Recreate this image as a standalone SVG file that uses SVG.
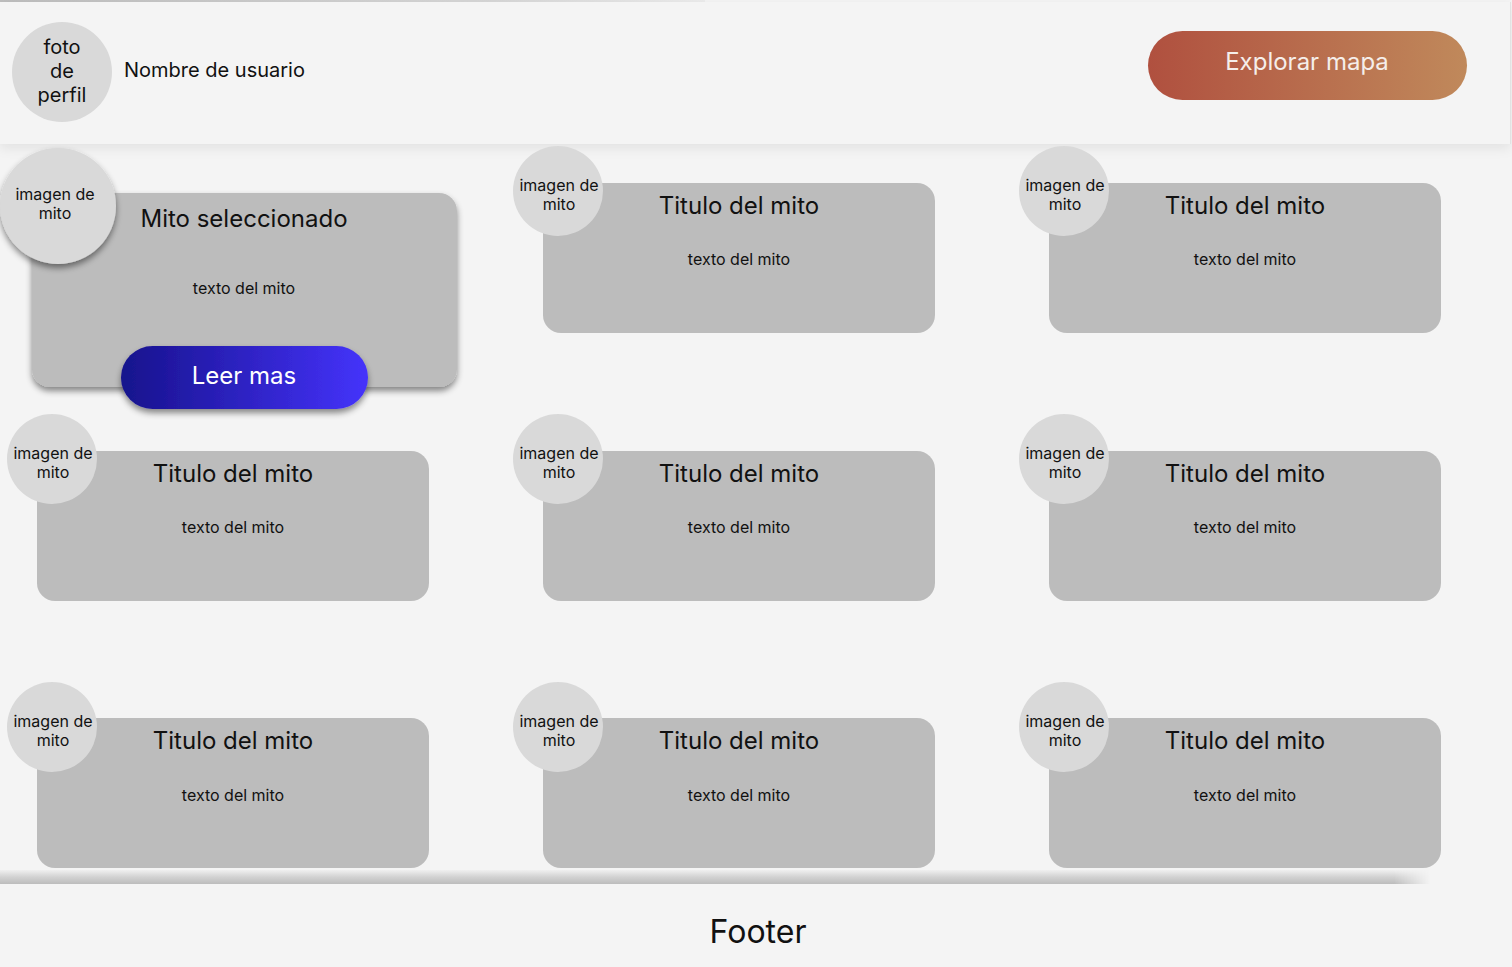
<svg xmlns="http://www.w3.org/2000/svg" width="1512" height="967" viewBox="0 0 1512 967">
<style>
.bg{fill:#f4f4f4}
.card{fill:#bcbcbc}
.circ{fill:#d9d9d9}
text{font-family:Inter,"Noto Sans","Liberation Sans",sans-serif;fill:#111;text-anchor:middle}
.small{font-size:16px}
.title{font-size:24px}
.hdr{font-size:20px}
.btn{font-size:24px;fill:#fff}
</style>
<defs>
<linearGradient id="gExp" x1="0" y1="0" x2="1" y2="0">
<stop offset="0" stop-color="#b0503f"/>
<stop offset="1" stop-color="#c0895b"/>
</linearGradient>
<linearGradient id="gLeer" x1="0" y1="0" x2="1" y2="0">
<stop offset="0" stop-color="#17128c"/>
<stop offset="1" stop-color="#4533fb"/>
</linearGradient>
<linearGradient id="gTop" x1="0" y1="0" x2="1" y2="0">
<stop offset="0" stop-color="#bdbdbd"/>
<stop offset="0.7" stop-color="#d6d6d6"/>
<stop offset="1" stop-color="#ececec"/>
</linearGradient>
<linearGradient id="gFootSh" x1="0" y1="0" x2="0" y2="1">
<stop offset="0" stop-color="#f0f0f0"/>
<stop offset="0.5" stop-color="#d2d2d2"/>
<stop offset="1" stop-color="#bcbcbc"/>
</linearGradient>
<linearGradient id="gFade" x1="0" y1="0" x2="1" y2="0">
<stop offset="0" stop-color="#fff"/>
<stop offset="0.975" stop-color="#fff"/>
<stop offset="1" stop-color="#000"/>
</linearGradient>
<mask id="mFade" maskUnits="userSpaceOnUse" x="0" y="860" width="1430" height="30">
<rect x="0" y="860" width="1430" height="30" fill="url(#gFade)"/>
</mask>
<filter id="shHdr" x="-5%" y="-20%" width="110%" height="150%">
<feDropShadow dx="0" dy="4" stdDeviation="6" flood-color="#000" flood-opacity="0.08"/>
</filter>
<filter id="shCard" x="-10%" y="-10%" width="120%" height="130%">
<feDropShadow dx="0" dy="4" stdDeviation="3" flood-color="#000" flood-opacity="0.45"/>
</filter>
</defs>
<rect class="bg" x="0" y="0" width="1512" height="967"/>
<rect x="0" y="0" width="705" height="2" fill="url(#gTop)"/>

<g id="header">
<rect x="0" y="2" width="1510" height="142" class="bg" filter="url(#shHdr)"/>
<line x1="1510.5" y1="2" x2="1510.5" y2="144" stroke="#e2e2e2" stroke-width="1"/>
</g>

<g id="profile">
<circle class="circ" cx="62" cy="72" r="50"/>
<text class="hdr" x="62" y="54">foto</text>
<text class="hdr" x="62" y="78">de</text>
<text class="hdr" x="62" y="102">perfil</text>
</g>
<g id="username">
<text class="hdr" x="124" y="77" style="text-anchor:start">Nombre de usuario</text>
</g>
<g id="explorar">
<rect x="1148" y="31" width="319" height="69" rx="34.5" fill="url(#gExp)"/>
<text class="btn" x="1307" y="70" style="fill:#f5eeea">Explorar mapa</text>
</g>

<g id="selected-card">
<rect class="card" x="32" y="193" width="425" height="194" rx="18" filter="url(#shCard)"/>
<circle class="circ" cx="58" cy="206" r="58" filter="url(#shCard)"/>
<text class="small" x="55" y="200">imagen de</text>
<text class="small" x="55" y="219">mito</text>
<text class="title" x="244" y="227">Mito seleccionado</text>
<text class="small" x="244" y="294">texto del mito</text>
</g>
<g id="leer-mas">
<rect x="121" y="346" width="247" height="63" rx="31.5" fill="url(#gLeer)" filter="url(#shCard)"/>
<text class="btn" x="244" y="384">Leer mas</text>
</g>

<g id="card-1-2">
<rect class="card" x="543" y="183" width="392" height="150" rx="18"/>
<circle class="circ" cx="558" cy="191" r="45"/>
<text class="small" x="559" y="191">imagen de</text>
<text class="small" x="559" y="210">mito</text>
<text class="title" x="739" y="214">Titulo del mito</text>
<text class="small" x="739" y="265">texto del mito</text>
</g>
<g id="card-1-3">
<rect class="card" x="1049" y="183" width="392" height="150" rx="18"/>
<circle class="circ" cx="1064" cy="191" r="45"/>
<text class="small" x="1065" y="191">imagen de</text>
<text class="small" x="1065" y="210">mito</text>
<text class="title" x="1245" y="214">Titulo del mito</text>
<text class="small" x="1245" y="265">texto del mito</text>
</g>

<g id="card-2-1">
<rect class="card" x="37" y="451" width="392" height="150" rx="18"/>
<circle class="circ" cx="52" cy="459" r="45"/>
<text class="small" x="53" y="459">imagen de</text>
<text class="small" x="53" y="478">mito</text>
<text class="title" x="233" y="482">Titulo del mito</text>
<text class="small" x="233" y="533">texto del mito</text>
</g>
<g id="card-2-2">
<rect class="card" x="543" y="451" width="392" height="150" rx="18"/>
<circle class="circ" cx="558" cy="459" r="45"/>
<text class="small" x="559" y="459">imagen de</text>
<text class="small" x="559" y="478">mito</text>
<text class="title" x="739" y="482">Titulo del mito</text>
<text class="small" x="739" y="533">texto del mito</text>
</g>
<g id="card-2-3">
<rect class="card" x="1049" y="451" width="392" height="150" rx="18"/>
<circle class="circ" cx="1064" cy="459" r="45"/>
<text class="small" x="1065" y="459">imagen de</text>
<text class="small" x="1065" y="478">mito</text>
<text class="title" x="1245" y="482">Titulo del mito</text>
<text class="small" x="1245" y="533">texto del mito</text>
</g>

<g id="card-3-1">
<rect class="card" x="37" y="718" width="392" height="150" rx="18"/>
<circle class="circ" cx="52" cy="727" r="45"/>
<text class="small" x="53" y="727">imagen de</text>
<text class="small" x="53" y="746">mito</text>
<text class="title" x="233" y="749">Titulo del mito</text>
<text class="small" x="233" y="801">texto del mito</text>
</g>
<g id="card-3-2">
<rect class="card" x="543" y="718" width="392" height="150" rx="18"/>
<circle class="circ" cx="558" cy="727" r="45"/>
<text class="small" x="559" y="727">imagen de</text>
<text class="small" x="559" y="746">mito</text>
<text class="title" x="739" y="749">Titulo del mito</text>
<text class="small" x="739" y="801">texto del mito</text>
</g>
<g id="card-3-3">
<rect class="card" x="1049" y="718" width="392" height="150" rx="18"/>
<circle class="circ" cx="1064" cy="727" r="45"/>
<text class="small" x="1065" y="727">imagen de</text>
<text class="small" x="1065" y="746">mito</text>
<text class="title" x="1245" y="749">Titulo del mito</text>
<text class="small" x="1245" y="801">texto del mito</text>
</g>

<g id="footer">
<rect x="0" y="870" width="1430" height="14" fill="url(#gFootSh)" mask="url(#mFade)"/>
<rect class="bg" x="0" y="884" width="1512" height="83"/>
<text x="758" y="943" style="font-size:32px">Footer</text>
</g>

<g id="connectors"></g>
</svg>
